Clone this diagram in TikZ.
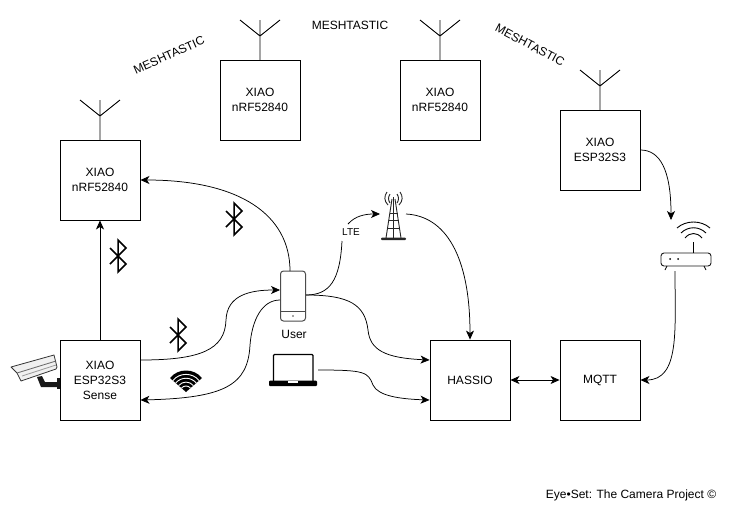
\documentclass[tikz,border=0pt]{standalone}
\usepackage{fontspec}
\setmainfont{Liberation Sans}
\usetikzlibrary{arrows.meta}
\tikzset{
 tip/.style={Stealth[length=9pt,width=8pt,inset=2.5pt]},
 boxn/.style={draw,line width=0.9pt,minimum width=80pt,minimum height=80pt,align=center,font=\fontsize{12}{15}\selectfont,inner sep=0pt},
 conn/.style={line width=0.75pt,-{Stealth[length=9pt,width=8pt,inset=2.5pt]}},
 bothconn/.style={line width=0.75pt,{Stealth[length=9pt,width=8pt,inset=2.5pt]}-{Stealth[length=9pt,width=8pt,inset=2.5pt]}},
 plainconn/.style={line width=0.75pt},
 lbl/.style={font=\fontsize{12}{14}\selectfont,inner sep=0pt},
 ant/.pic={\draw[line width=0.9pt] (0,0)--(0,-40) (0,-24)--(-20,-40) (0,-24)--(20,-40);},
 btooth/.pic={\draw[line width=1.5pt,line join=miter] (-8,-8)--(8,8)--(0,16)--(0,-16)--(8,-8)--(-8,8);}
}
\begin{document}
\begin{tikzpicture}[x=1pt,y=-1pt]
\useasboundingbox (0,0) rectangle (741,520);
\fill[white] (0,0) rectangle (741,520);
\node[boxn] (n1) at (100,180) {XIAO\\nRF52840};
\node[boxn] (n2) at (260,100) {XIAO\\nRF52840};
\node[boxn] (n3) at (440,100) {XIAO\\nRF52840};
\node[boxn] (n4) at (600,150) {XIAO\\ESP32S3};
\node[boxn] (cam) at (100,380) {XIAO\\ESP32S3\\Sense};
\node[boxn] (hassio) at (470,380) {HASSIO};
\node[boxn] (mqtt) at (600,380) {MQTT};
% antennas
\pic at (100,140) {ant};
\pic at (260,60) {ant};
\pic at (440,60) {ant};
\pic at (600,110) {ant};
% labels
\node[lbl,rotate=24] (m1) at (169,55) {MESHTASTIC};
\node[lbl] (m2) at (350,25) {MESHTASTIC};
\node[lbl,rotate=-28] (m3) at (530,45) {MESHTASTIC};
\node[lbl] (cr) at (631,495) {Eye•Set: The Camera Project ©};
% phone
\node[draw=black!70,line width=1pt,rounded corners=3pt,minimum width=25pt,minimum height=50pt,inner sep=0pt] (phone) at (293,296) {};
\draw[black!70,line width=1pt] (281,311)--(305,311);
\fill[black!70] (293,316) circle (0.9pt);
\node[lbl] (user) at (294,334) {User};
\coordinate (pR) at (306,295);
\coordinate (pL1) at (280,290);
\coordinate (pL2) at (280,300);
\coordinate (pT) at (290,271);
% tower
\coordinate (tower) at (380,214);
\begin{scope}[black!85]
\fill[rounded corners=1pt] (381,237.5) rectangle (406,240);
\draw[line width=0.9pt] (386,238)--(392,199) (401,238)--(395,199);
\draw[line width=1.5pt] (393.5,197)--(393.5,238);
\draw[line width=0.8pt] (387,228)--(400,228) (388.5,220)--(398.5,220) (389.5,213)--(397.5,213);
\draw[line width=0.9pt] (387,192) .. controls (384,196) and (384,201) .. (388,205);
\draw[line width=0.9pt] (390,194) .. controls (388,197) and (388,200) .. (390,203);
\draw[line width=0.9pt] (400,192) .. controls (403,196) and (403,201) .. (399,205);
\draw[line width=0.9pt] (397,194) .. controls (399,197) and (399,200) .. (397,203);
\end{scope}
% router
\draw[line width=0.9pt,rounded corners=3pt,black!90] (661,253) rectangle (711,266);
\draw[line width=0.7pt] (667,266)--(665,270) (704,266)--(706,270);
\draw[line width=0.7pt] (693,253)--(693,242);
\fill (670,259) circle (1pt) (678,259) circle (1pt);
\draw[line width=0.9pt] (677,228) .. controls (686,220) and (701,220) .. (710,228);
\draw[line width=0.9pt] (681,233) .. controls (688,226) and (699,226) .. (706,233);
\draw[line width=0.9pt] (685,238) .. controls (690,232) and (697,232) .. (702,238);
\coordinate (rT) at (671,220);
\coordinate (rB) at (675,271);
% laptop
\coordinate (lap) at (318,370);
\draw[line width=1.1pt,rounded corners=1pt] (273.5,381)--(273.5,354.5)--(313,354.5)--(313,381);
\fill[rounded corners=1pt] (269,380.5) rectangle (317,386);
\fill[white] (288,381) rectangle (298,383);
% wifi
\fill (170,378) .. controls (178,368) and (194,368) .. (202,378) -- (186,392) -- cycle;
\foreach \r in {0.82,0.64,0.46,0.28}{
 \begin{scope}[shift={(186,392)},scale=\r]
 \draw[white,line width=0.9pt] (-16,-14) .. controls (-8,-24) and (8,-24) .. (16,-14);
 \end{scope}}
% bluetooth
\pic at (234,219) {btooth};
\pic at (118,256) {btooth};
\pic at (178,335) {btooth};
% camera
\fill[black!90] (57,378) rectangle (60,389);
\fill[black!90] (37,377) -- (42,376) -- (45,382) -- (57,382) -- (57,387) -- (41,387) -- cycle;
\draw[black!80,fill=black!6,line width=0.8pt,line join=round] (11,367)--(54,355)--(57,367)--(56,369)--(21,381)--(17,373)--cycle;
\draw[black!60,line width=0.8pt] (17,373)--(56,361);
\draw[black!40,line width=0.8pt] (22,376)--(56,365);
% connectors
\draw[conn] (cam.north) -- (n1.south);
\draw[conn] (pT) .. controls (290,215) and (240,180) .. (n1.east);
\draw[conn] (cam.east |- 0,360) .. controls (200,360) and (225,350) .. (226,320) .. controls (227,295) and (250,290) .. (pL1);
\draw[conn] (pL2) .. controls (262,300) and (252,320) .. (250,345) .. controls (248,385) and (225,398) .. (cam.east |- 0,400);
\draw[plainconn] (pR) .. controls (330,295) and (340,280) .. (342,241);
\node[lbl,font=\fontsize{10}{12}\selectfont] (lte) at (351,232) {LTE};
\draw[conn] (348,224) .. controls (355,216) and (365,214) .. (tower);
\draw[conn] (406,214) .. controls (445,216) and (470,255) .. (hassio.north);
\draw[conn] (pR) .. controls (350,295) and (365,305) .. (368,330) .. controls (370,350) and (385,358) .. (hassio.west |- 0,360);
\draw[conn] (lap) .. controls (365,370) and (368,372) .. (373,385) .. controls (378,396) and (400,399) .. (hassio.west |- 0,400);
\draw[bothconn] (hassio.east) -- (mqtt.west);
\draw[conn] (n4.east) .. controls (660,150) and (671,170) .. (rT);
\draw[conn] (rB) .. controls (675,330) and (680,380) .. (mqtt.east);
\end{tikzpicture}
\end{document}
